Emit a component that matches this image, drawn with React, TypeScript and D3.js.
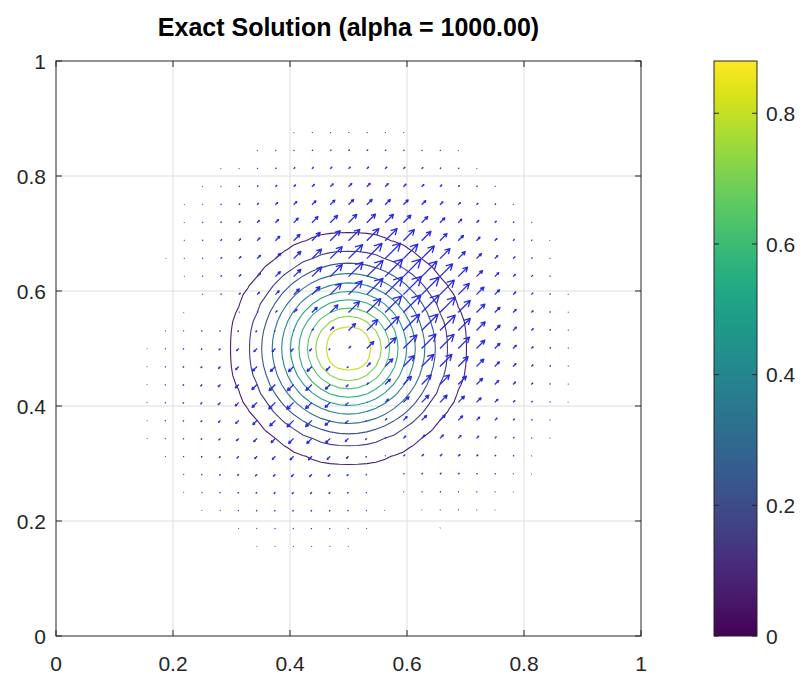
import * as d3 from "d3";

const WIDTH = 806;
const HEIGHT = 677;
const PLOT = { left: 56, top: 61, right: 641, bottom: 636 };
const CBAR = { left: 714, right: 757, top: 61, bottom: 636 };

const titleText = "Exact Solution (alpha = 1000.00)";
const axisTicks = [0, 0.2, 0.4, 0.6, 0.8, 1];
const colorbarTicks = [0, 0.2, 0.4, 0.6, 0.8];
const colorMax = 0.88;

// contour levels and the radius of each ring
const contourLevels = [0.08, 0.16, 0.24, 0.32, 0.4, 0.48, 0.56, 0.64, 0.72, 0.8];
const contourRadii = [0.2, 0.168, 0.148, 0.13, 0.114, 0.099, 0.085, 0.07, 0.056, 0.042];
const peakValue = 0.88;
const tailRadii = [0.25, 0.3, 0.4];
const tailValues = [0.03, 0.01, 0];
const centre = [0.5, 0.5];
const contourGridCount = 65; // h = 1/64
const quiverGridCount = 33; // h = 1/32

// quiver: every arrow lies along the diagonal; outward part (times the
// cosine to the diagonal) plus a drift part, both read against radius
const fluxRadii = [0, 0.03, 0.06, 0.1, 0.15, 0.2, 0.25, 0.3, 0.35, 0.4];
const fluxOutward = [0, 8, 13, 17, 18, 12, 6, 2.5, 0.8, 0];
const fluxDrift = [3, 4, 6, 8, 8, 6, 3, 1.2, 0.4, 0];
const arrowAngle = 45;

const x = d3.scaleLinear().domain([0, 1]).range([PLOT.left, PLOT.right]);
const y = d3.scaleLinear().domain([0, 1]).range([PLOT.bottom, PLOT.top]);
const color = d3.scaleSequential(d3.interpolateViridis).domain([0, colorMax]);
const cbY = d3.scaleLinear().domain([0, colorMax]).range([CBAR.bottom, CBAR.top]);

const profile = d3
  .scaleLinear()
  .domain([0, ...[...contourRadii].reverse(), ...tailRadii])
  .range([peakValue, ...[...contourLevels].reverse(), ...tailValues])
  .clamp(true);
const outward = d3.scaleLinear().domain(fluxRadii).range(fluxOutward).clamp(true);
const drift = d3.scaleLinear().domain(fluxRadii).range(fluxDrift).clamp(true);

function gridNodes(n: number) {
  const h = 1 / (n - 1);
  return d3.range(n * n).map((k) => ({ gx: (k % n) * h, gy: Math.floor(k / n) * h }));
}

const ch = 1 / (contourGridCount - 1);
const values = gridNodes(contourGridCount).map((n) =>
  profile(Math.hypot(n.gx - centre[0], n.gy - centre[1]))
);
const contours = d3
  .contours()
  .size([contourGridCount, contourGridCount])
  .thresholds(contourLevels)(values);
const contourPath = d3.geoPath(
  d3.geoTransform({
    point(px: number, py: number) {
      (this as any).stream.point(x((px - 0.5) * ch), y((py - 0.5) * ch));
    },
  })
);

const ax = Math.cos((arrowAngle * Math.PI) / 180);
const ay = Math.sin((arrowAngle * Math.PI) / 180);
const arrows = gridNodes(quiverGridCount)
  .map((n) => {
    const dx = n.gx - centre[0];
    const dy = n.gy - centre[1];
    const r = Math.hypot(dx, dy);
    const cosd = r > 0 ? (dx * ax + dy * ay) / r : 0;
    const m = outward(r) * cosd + drift(r);
    return { x0: x(n.gx), y0: y(n.gy), vx: m * ax, vy: -m * ay };
  })
  .filter((a) => Math.hypot(a.vx, a.vy) > 0.15);

function arrowPath(a: { x0: number; y0: number; vx: number; vy: number }) {
  const x1 = a.x0 + a.vx;
  const y1 = a.y0 + a.vy;
  const bx = a.x0 + a.vx * 0.65;
  const by = a.y0 + a.vy * 0.65;
  const w = 0.19;
  return (
    `M${a.x0},${a.y0}L${x1},${y1}` +
    `M${bx - a.vy * w},${by + a.vx * w}L${x1},${y1}L${bx + a.vy * w},${by - a.vx * w}`
  );
}

const font = "'Liberation Sans', Arial, Helvetica, sans-serif";
const axisColor = "#262626";

export default function App() {
  const stops = d3.range(0, 1.0001, 0.05);
  return (
    <div style={{ position: "fixed", left: 0, top: 0 }}>
      <svg width={WIDTH} height={HEIGHT} style={{ display: "block", background: "#fff" }}>
        <defs>
          <linearGradient id="cb" x1="0" y1="1" x2="0" y2="0">
            {stops.map((t) => (
              <stop key={t} offset={t} stopColor={d3.interpolateViridis(t)} />
            ))}
          </linearGradient>
        </defs>
        <text
          x={(PLOT.left + PLOT.right) / 2}
          y={36}
          textAnchor="middle"
          fontFamily={font}
          fontWeight="bold"
          fontSize={25}
          fill="#000"
        >
          {titleText}
        </text>

        {/* grid */}
        <g stroke="#dedede" strokeWidth={1}>
          {axisTicks.slice(1, -1).map((t) => (
            <line key={"gx" + t} x1={x(t)} x2={x(t)} y1={PLOT.top} y2={PLOT.bottom} />
          ))}
          {axisTicks.slice(1, -1).map((t) => (
            <line key={"gy" + t} y1={y(t)} y2={y(t)} x1={PLOT.left} x2={PLOT.right} />
          ))}
        </g>

        {/* contours */}
        <g fill="none" strokeWidth={1.1}>
          {contours.map((c) => (
            <path key={c.value} d={contourPath(c) || ""} stroke={color(c.value)} />
          ))}
        </g>

        {/* quiver */}
        <g fill="none" stroke="#2a2ae6" strokeWidth={1.3} strokeLinejoin="round">
          {arrows.map((a, k) => (
            <path key={k} d={arrowPath(a)} />
          ))}
        </g>

        {/* axes box and ticks */}
        <rect
          x={PLOT.left}
          y={PLOT.top}
          width={PLOT.right - PLOT.left}
          height={PLOT.bottom - PLOT.top}
          fill="none"
          stroke={axisColor}
          strokeWidth={1}
        />
        <g stroke={axisColor} strokeWidth={1}>
          {axisTicks.map((t) => (
            <g key={"t" + t}>
              <line x1={x(t)} x2={x(t)} y1={PLOT.bottom} y2={PLOT.bottom - 6} />
              <line x1={x(t)} x2={x(t)} y1={PLOT.top} y2={PLOT.top + 6} />
              <line y1={y(t)} y2={y(t)} x1={PLOT.left} x2={PLOT.left + 6} />
              <line y1={y(t)} y2={y(t)} x1={PLOT.right} x2={PLOT.right - 6} />
            </g>
          ))}
        </g>
        <g fontFamily={font} fontSize={21} fill={axisColor}>
          {axisTicks.map((t) => (
            <text key={"xl" + t} x={x(t)} y={671} textAnchor="middle">
              {d3.format("~g")(t)}
            </text>
          ))}
          {axisTicks.map((t) => (
            <text key={"yl" + t} x={46} y={y(t)} dy="0.36em" textAnchor="end">
              {d3.format("~g")(t)}
            </text>
          ))}
        </g>

        {/* colorbar */}
        <rect
          x={CBAR.left}
          y={CBAR.top}
          width={CBAR.right - CBAR.left}
          height={CBAR.bottom - CBAR.top}
          fill="url(#cb)"
          stroke={axisColor}
          strokeWidth={1}
        />
        <g stroke={axisColor} strokeWidth={1}>
          {colorbarTicks.map((t) => (
            <g key={"cbt" + t}>
              <line x1={CBAR.left} x2={CBAR.left + 5} y1={cbY(t)} y2={cbY(t)} />
              <line x1={CBAR.right} x2={CBAR.right - 5} y1={cbY(t)} y2={cbY(t)} />
            </g>
          ))}
        </g>
        <g fontFamily={font} fontSize={21} fill={axisColor}>
          {colorbarTicks.map((t) => (
            <text key={"cbl" + t} x={766} y={cbY(t)} dy="0.36em">
              {d3.format("~g")(t)}
            </text>
          ))}
        </g>
      </svg>
    </div>
  );
}
